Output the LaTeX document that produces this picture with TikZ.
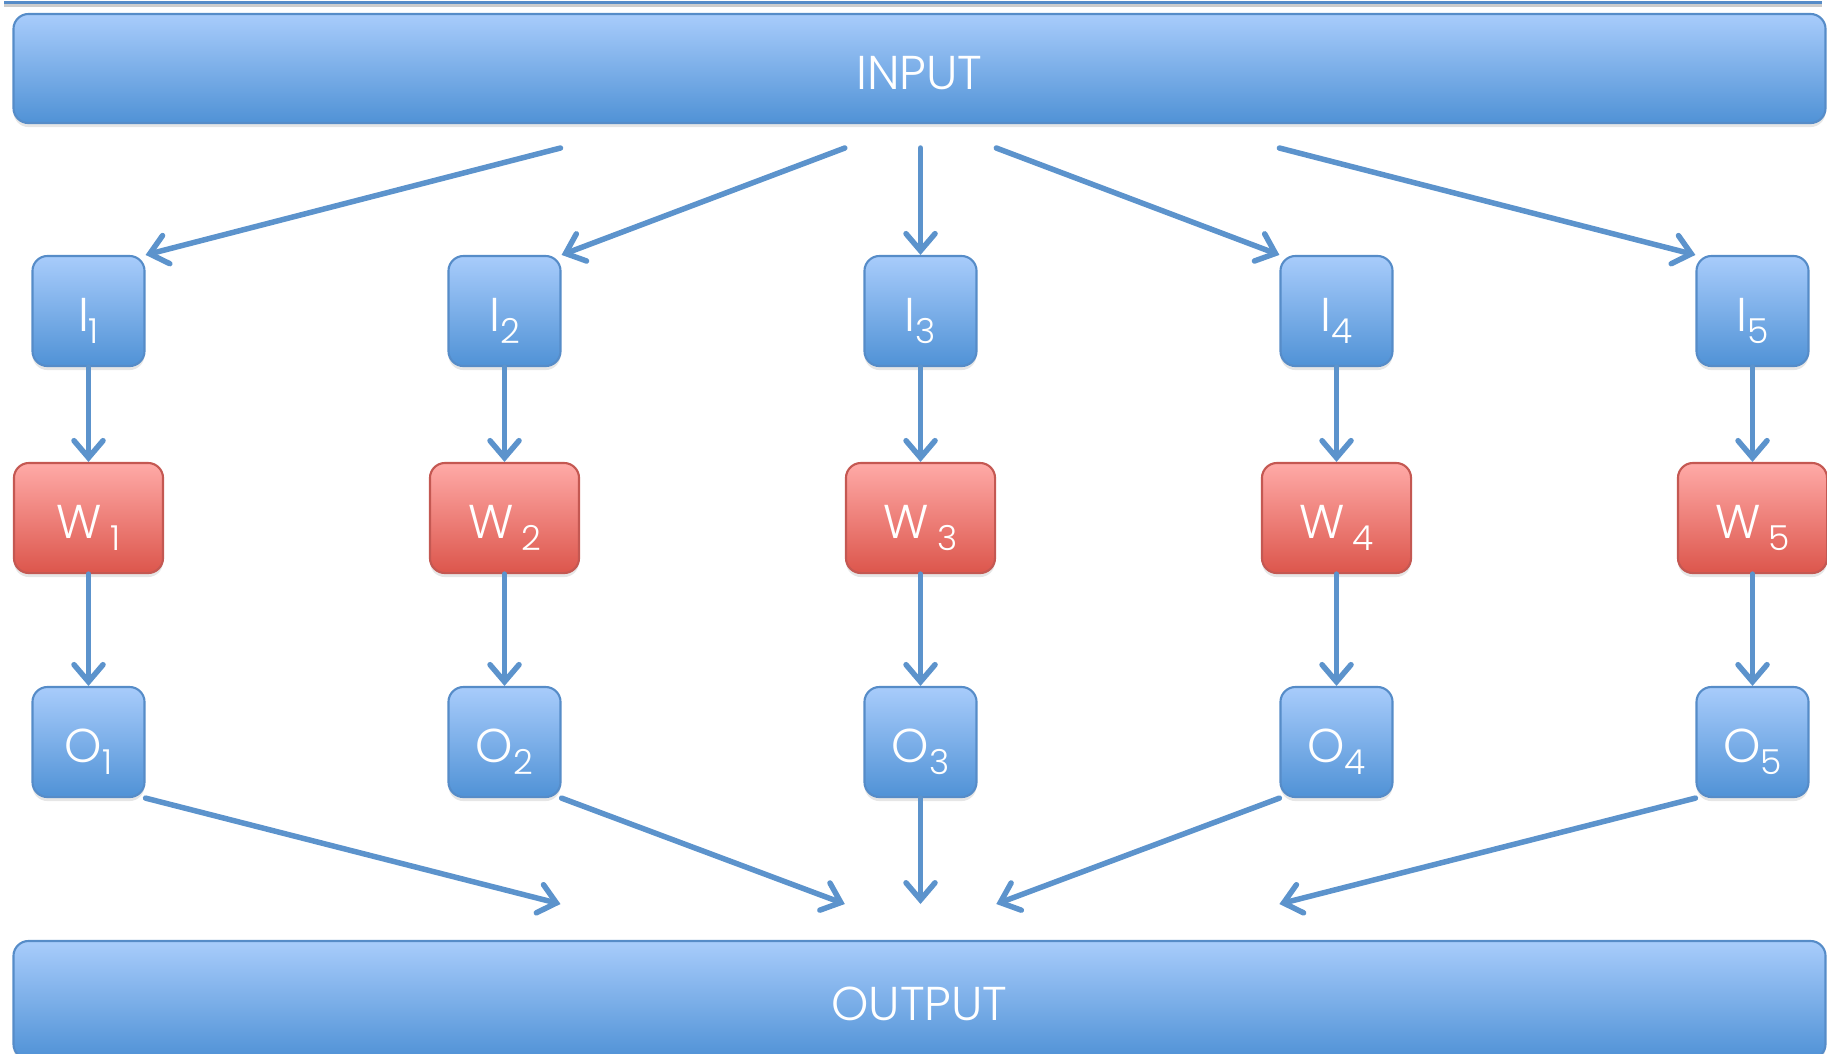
\documentclass[tikz,border=0pt]{standalone}
\usepackage{fontspec}
\setmainfont{Poppins}[UprightFont=* Light]
\usepackage{tikz}
\usetikzlibrary{positioning}
\usetikzlibrary{arrows.meta,shadows}
\usepackage{xcolor}

\definecolor{bluetop}{RGB}{168,204,251}
\definecolor{bluebot}{RGB}{80,146,214}
\definecolor{blueline}{RGB}{86,140,200}
\definecolor{redtop}{RGB}{255,170,167}
\definecolor{redbot}{RGB}{220,86,76}
\definecolor{redline}{RGB}{196,88,82}
\definecolor{flowblue}{RGB}{92,147,204}

\newcommand{\lbl}[2]{#1\raisebox{-3.5pt}{\fontsize{9.8}{10}\selectfont #2}}

\tikzset{
    boxbase/.style={rounded corners=0.15cm, line width=0.6pt, text=white,
        font=\fontsize{13.5}{15}\selectfont, text height=0.41cm, text depth=0pt,
        drop shadow={opacity=0.2, shadow xshift=0pt, shadow yshift=-0.04cm}},
    bluebox/.style={boxbase, draw=blueline, top color=bluetop, bottom color=bluebot,
        minimum width=1.12cm, minimum height=1.10cm},
    redbox/.style={boxbase, draw=redline, top color=redtop, bottom color=redbot,
        minimum width=1.49cm, minimum height=1.10cm},
    bar/.style={bluebox, minimum width=18.11cm},
    flow/.style={draw=flowblue, line width=0.055cm, line cap=round,
        -{Straight Barb[length=0.17cm, width=0.29cm, line cap=round]}}
}

\begin{document}
\begin{tikzpicture}[x=0.01cm, y=-0.01cm]
    \useasboundingbox (0,0) rectangle (1827,1053);
    \clip (0,0) rectangle (1827,1053);

    % Top rule
    \draw[black!20, line width=0.03cm] (4,5.5) -- (1822,5.5);
    \draw[blueline, line width=0.03cm] (4,2.5) -- (1822,2.5);

    % Bars
    \node[bar, minimum height=1.09cm] (input) at (919.5,68.5) {INPUT};
    \node[bar, minimum height=1.18cm] (output) at (919.5,1000) {OUTPUT};

    % Input nodes
    \node[bluebox] (i1) at (88.5,311) {\lbl{I}{1}};
    \node[bluebox] (i2) at (504.5,311) {\lbl{I}{2}};
    \node[bluebox] (i3) at (920.5,311) {\lbl{I}{3}};
    \node[bluebox] (i4) at (1336.5,311) {\lbl{I}{4}};
    \node[bluebox] (i5) at (1752.5,311) {\lbl{I}{5}};

    % Weight nodes
    \node[redbox] (w1) at (88.5,518) {\lbl{W\,}{1}};
    \node[redbox] (w2) at (504.5,518) {\lbl{W\,}{2}};
    \node[redbox] (w3) at (920.5,518) {\lbl{W\,}{3}};
    \node[redbox] (w4) at (1336.5,518) {\lbl{W\,}{4}};
    \node[redbox] (w5) at (1752.5,518) {\lbl{W\,}{5}};

    % Output nodes
    \node[bluebox] (o1) at (88.5,742) {\lbl{O}{1}};
    \node[bluebox] (o2) at (504.5,742) {\lbl{O}{2}};
    \node[bluebox] (o3) at (920.5,742) {\lbl{O}{3}};
    \node[bluebox] (o4) at (1336.5,742) {\lbl{O}{4}};
    \node[bluebox] (o5) at (1752.5,742) {\lbl{O}{5}};

    % Free ends under INPUT and above OUTPUT
    \coordinate (in1) at (560.5,148);
    \coordinate (in2) at (844.8,148);
    \coordinate (in3) at (920.5,148);
    \coordinate (in4) at (996.3,148);
    \coordinate (in5) at (1279.4,148);
    \coordinate (out1) at (560.5,904);
    \coordinate (out2) at (844.8,904);
    \coordinate (out3) at (920.5,904);
    \coordinate (out4) at (996.3,904);
    \coordinate (out5) at (1279.4,904);

    % Fan out
    \draw[flow] (in1) -- (i1.north east);
    \draw[flow] (in2) -- (i2.north east);
    \draw[flow] (in3) -- (i3.north);
    \draw[flow] (in4) -- (i4.north west);
    \draw[flow] (in5) -- (i5.north west);

    % Columns
    \draw[flow] (i1) -- (w1);
    \draw[flow] (i2) -- (w2);
    \draw[flow] (i3) -- (w3);
    \draw[flow] (i4) -- (w4);
    \draw[flow] (i5) -- (w5);
    \draw[flow] (w1) -- (o1);
    \draw[flow] (w2) -- (o2);
    \draw[flow] (w3) -- (o3);
    \draw[flow] (w4) -- (o4);
    \draw[flow] (w5) -- (o5);

    % Fan in
    \draw[flow] (o1.south east) -- (out1);
    \draw[flow] (o2.south east) -- (out2);
    \draw[flow] (o3.south) -- (out3);
    \draw[flow] (o4.south west) -- (out4);
    \draw[flow] (o5.south west) -- (out5);
\end{tikzpicture}
\end{document}
